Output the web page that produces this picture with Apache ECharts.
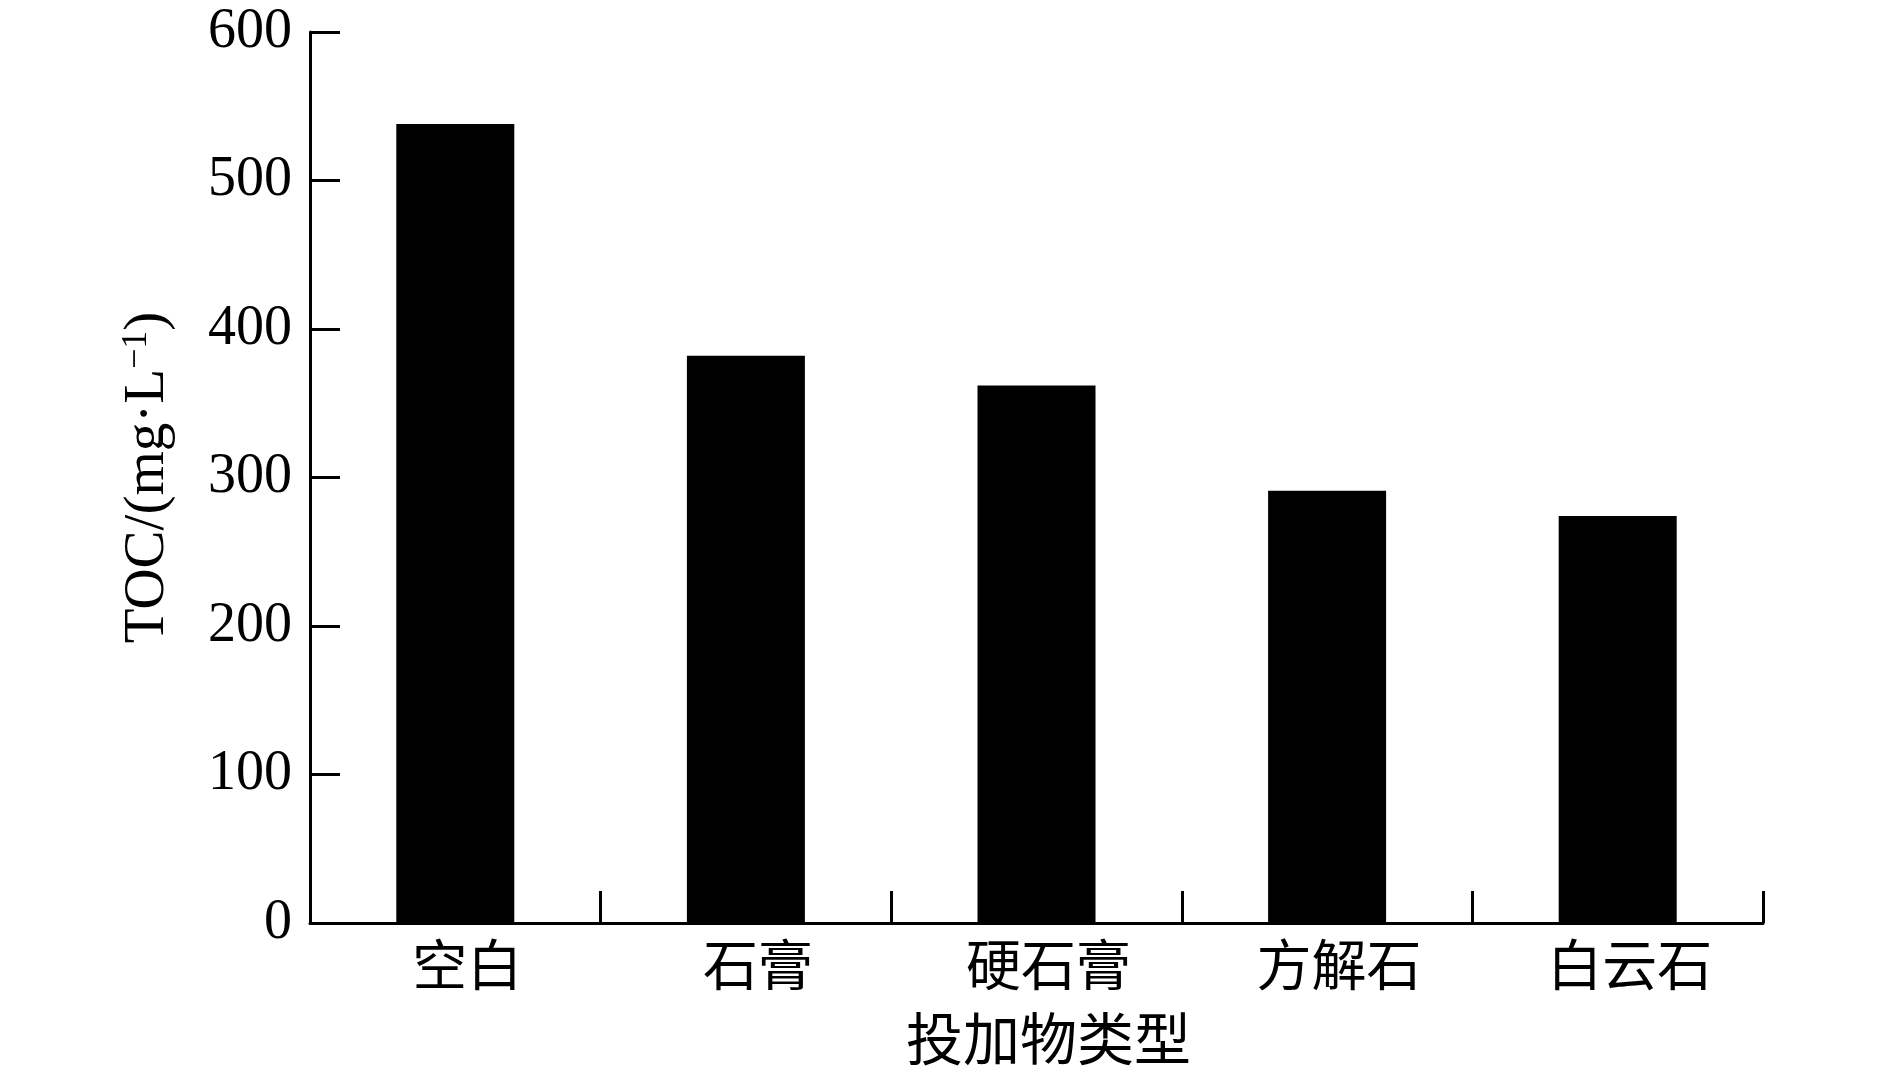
<!DOCTYPE html>
<html>
<head>
<meta charset="utf-8">
<script src="https://cdn.jsdelivr.net/npm/echarts@6/dist/echarts.min.js"></script>
<style>
  html, body { margin: 0; padding: 0; background: #fff; }
  #chart { width: 1890px; height: 1087px; }
</style>
</head>
<body>
<div id="chart"></div>
<script>
  // 投加物类型
  const categories = ['空白', '石膏', '硬石膏', '方解石', '白云石']
  // TOC (mg/L)
  const tocValues = [538, 382, 362, 291, 274]
  const yTicks = { min: 0, max: 600, interval: 100 }

  const fontFamily = '"Liberation Serif", "Noto Sans CJK SC", serif'
  const chart = echarts.init(document.getElementById('chart'))

  chart.setOption({
    backgroundColor: '#fff',
    animation: false,
    grid: {
      left: 310,
      right: 127,
      top: 32,
      bottom: 164
    },
    xAxis: {
      type: 'category',
      data: categories,
      name: '投加物类型',
      nameLocation: 'middle',
      nameGap: 94,
      nameTextStyle: { color: '#000', fontSize: 57, fontFamily: fontFamily, verticalAlign: 'top', padding: [0, 0, 0, 24] },
      axisLine: { lineStyle: { color: '#000', width: 3 } },
      axisTick: { show: true, inside: true, length: 32, lineStyle: { color: '#000', width: 3 } },
      axisLabel: { color: '#000', fontSize: 55, fontFamily: fontFamily, margin: 20, padding: [0, 0, 0, 24] }
    },
    yAxis: {
      type: 'value',
      min: yTicks.min,
      max: yTicks.max,
      interval: yTicks.interval,
      name: '{a|TOC/(mg·L}{b|−1}{a|)}',
      nameLocation: 'middle',
      nameGap: 133,
      nameTextStyle: {
        color: '#000',
        rich: {
          a: { fontSize: 57, fontFamily: fontFamily, color: '#000' },
          b: { fontSize: 36, fontFamily: fontFamily, color: '#000', padding: [0, 0, 22, 0] }
        }
      },
      splitLine: { show: false },
      axisLine: { show: true, lineStyle: { color: '#000', width: 3 } },
      axisTick: { show: true, inside: true, length: 30, lineStyle: { color: '#000', width: 3 } },
      axisLabel: { color: '#000', fontSize: 56, fontFamily: fontFamily, margin: 18 }
    },
    series: [
      {
        type: 'bar',
        data: tocValues,
        barWidth: 118,
        itemStyle: { color: '#000' }
      }
    ]
  })
</script>
</body>
</html>
